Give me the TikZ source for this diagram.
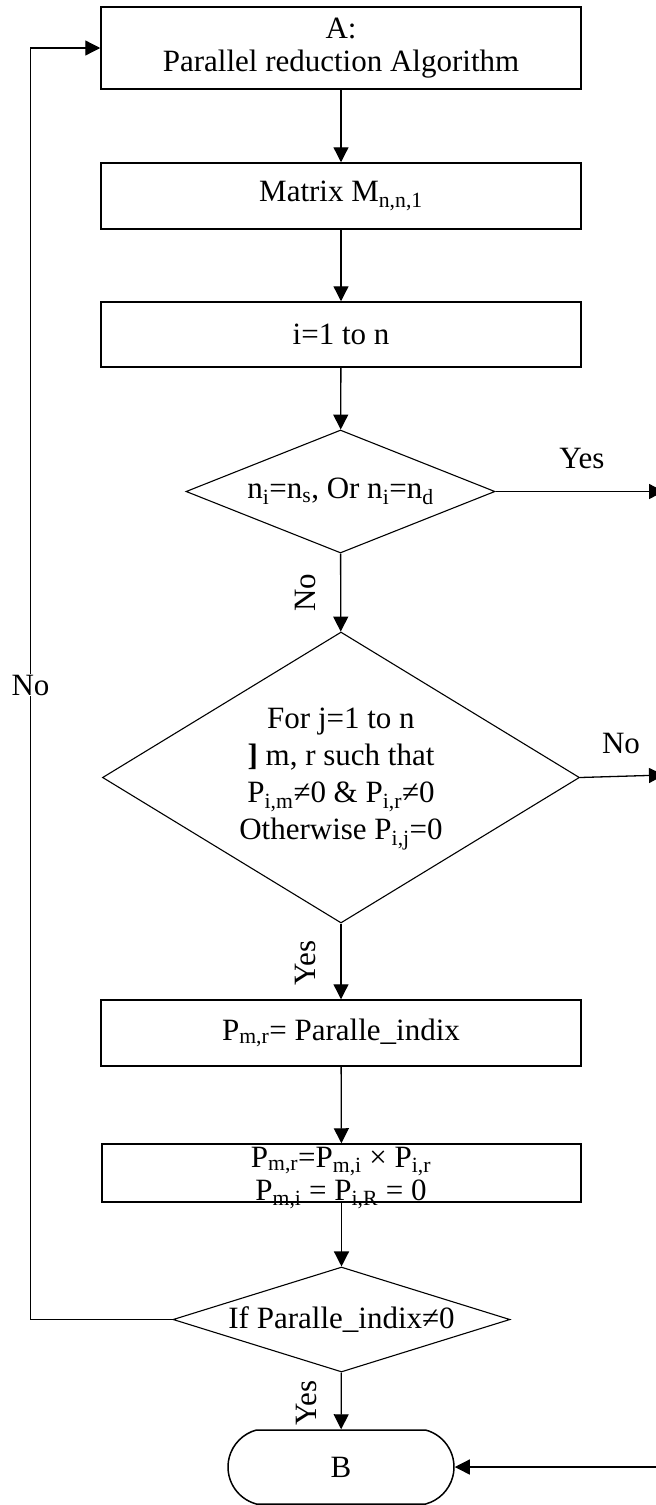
\documentclass[tikz,border=0pt]{standalone}
\usepackage{fontspec}
\setmainfont{Liberation Serif}
\usetikzlibrary{arrows.meta,shapes.geometric,shapes.misc}
\newcommand{\dn}[1]{\textsubscript{#1}}
\begin{document}
\begin{tikzpicture}[x=1pt,y=-1pt,
  every node/.style={font=\fontsize{31}{33}\selectfont},
  procbox/.style={draw, line width=1.5pt, minimum width=480pt, inner sep=0pt, align=center},
  decision/.style={draw, diamond, line width=1.1pt, inner sep=0pt},
  terminal/.style={draw, rounded rectangle, rounded rectangle arc length=150, line width=1.5pt, inner sep=0pt},
  flow/.style={line width=1.3pt, -{Triangle[length=15pt,width=15pt]}},
  sidelbl/.style={inner sep=1pt},
]
\useasboundingbox (0,0) rectangle (656,1505);

% process boxes
\node[procbox, minimum height=82pt] (A) at (341,48) {A:\\Parallel reduction Algorithm};
\node[procbox, minimum height=66pt] (M) at (341,196) {Matrix M\dn{n,n,1}};
\node[procbox, minimum height=65pt] (I) at (341,334.5) {i=1 to n};

% first decision
\node[decision, minimum width=309pt, minimum height=123pt] (D1) at (340.5,491.5) {};
\node (D1t) at (D1.center) {n\dn{i}=n\dn{s}, Or n\dn{i}=n\dn{d}};

% second decision
\node[decision, minimum width=477pt, minimum height=291pt] (D2) at (341,777.5) {};
\node[align=center, font=\fontsize{31}{37}\selectfont] (D2t) at (341,779)
  {For j=1 to n\\\textbf{]} m, r such that\\P\dn{i,m}≠0 \& P\dn{i,r}≠0\\Otherwise P\dn{i,j}=0};

% update boxes
\node[procbox, minimum height=66pt] (P1) at (341,1033) {P\dn{m,r}= Paralle\_indix};
\node[procbox, minimum height=58pt, minimum width=479pt] (P2) at (341.5,1173) {};
\node[align=center] (P2t) at (341,1178) {P\dn{m,r}=P\dn{m,i} × P\dn{i,r}\\P\dn{m,i} = P\dn{i,R} = 0};

% final decision and terminal
\node[decision, minimum width=337pt, minimum height=105pt] (D3) at (341.5,1319.5) {};
\node (D3t) at (D3.center) {If Paralle\_indix≠0};
\node[terminal, minimum width=226pt, minimum height=74pt] (B) at (341,1467) {B};

% free ends and loop corners
\coordinate (yesEnd) at (664,491.5);
\coordinate (noEnd) at (664,775);
\coordinate (bIn) at (656,1467);
\coordinate (L1) at (30.5,1319.5);
\coordinate (L2) at (30.5,48);

% main flow
\draw[flow] (A) -- (M);
\draw[flow] (M) -- (I);
\draw[flow] (I) -- (D1);
\draw[flow] (D1) -- (D2);
\draw[flow] (D2) -- (P1);
\draw[flow] (P1) -- (P2);
\draw[flow] (P2) -- (D3);
\draw[flow] (D3) -- (B);
\draw[flow] (D1.east) -- (yesEnd);
\draw[flow] (D2.east) -- (noEnd);
\draw[flow] (bIn) -- (B.east);
\draw[flow] (D3.west) -- (L1) -- (L2) -- (A.west);

% branch labels
\node[sidelbl] (yes1) at (582,458) {Yes};
\node[sidelbl] (no2) at (621,743) {No};
\node[sidelbl, fill=white] (noLoop) at (30.5,685) {No};
\node[sidelbl, rotate=90] (no1) at (305,593) {No};
\node[sidelbl, rotate=90] (yes2) at (305,963) {Yes};
\node[sidelbl, rotate=90] (yes3) at (306,1403) {Yes};
\end{tikzpicture}
\end{document}
